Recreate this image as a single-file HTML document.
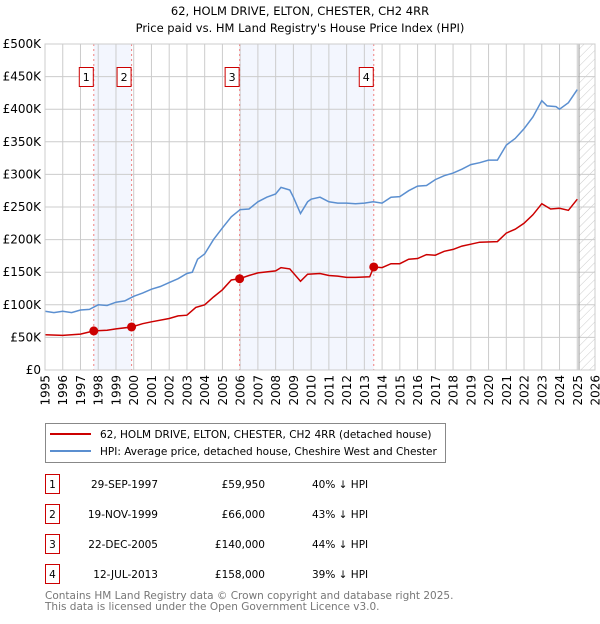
<!DOCTYPE html>
<html><head><meta charset="utf-8"><style>
body{margin:0;background:#fff;font-family:"DejaVu Sans","Liberation Sans",sans-serif;}
svg text{font-family:"DejaVu Sans","Liberation Sans",sans-serif;}
</style></head><body>
<svg id="c" width="600" height="620" xmlns="http://www.w3.org/2000/svg">
<defs><pattern id="hatch" width="6" height="6" patternUnits="userSpaceOnUse" patternTransform="rotate(45)"><line x1="0" y1="0" x2="0" y2="6" stroke="#ccc" stroke-width="1"/></pattern></defs>
<text x="300" y="15" text-anchor="middle" font-size="11.5" fill="#000">62, HOLM DRIVE, ELTON, CHESTER, CH2 4RR</text>
<text x="300" y="32" text-anchor="middle" font-size="11.5" fill="#000">Price paid vs. HM Land Registry's House Price Index (HPI)</text>
<g id="plot"></g>
<g>
<rect x="45.5" y="423.5" width="400" height="39" fill="#fff" stroke="#888"/>
<line x1="50" y1="434" x2="91" y2="434" stroke="#cc0000" stroke-width="2"/>
<text x="100" y="438" font-size="10.5">62, HOLM DRIVE, ELTON, CHESTER, CH2 4RR (detached house)</text>
<line x1="50" y1="451" x2="91" y2="451" stroke="#5b8fd0" stroke-width="2"/>
<text x="100" y="455" font-size="10.5">HPI: Average price, detached house, Cheshire West and Chester</text>
</g>
<g id="table" font-size="11"></g>
<text x="45" y="599" font-size="10.5" fill="#777">Contains HM Land Registry data © Crown copyright and database right 2025.</text>
<text x="45" y="610" font-size="10.5" fill="#777">This data is licensed under the Open Government Licence v3.0.</text>
</svg>
<script>
const hpiYears=[1995,1995.5,1996,1996.5,1997,1997.5,1998,1998.5,1999,1999.5,2000,2000.5,2001,2001.5,2002,2002.5,2003,2003.3,2003.6,2004,2004.5,2005,2005.5,2006,2006.5,2007,2007.5,2008,2008.3,2008.8,2009,2009.4,2009.8,2010,2010.5,2011,2011.5,2012,2012.5,2013,2013.5,2014,2014.5,2015,2015.5,2016,2016.5,2017,2017.5,2018,2018.5,2019,2019.5,2020,2020.5,2021,2021.5,2022,2022.5,2023,2023.3,2023.8,2024,2024.5,2025];
const hpiValues=[90,88,90,88,92,93,100,99,104,106,113,118,124,128,134,140,148,150,170,178,200,218,235,246,247,258,265,270,280,276,265,240,258,262,265,258,256,256,255,256,258,256,265,266,275,282,283,292,298,302,308,315,318,322,322,345,355,370,388,413,405,404,400,410,430];
const priceYears=[1995,1996,1997,1997.75,1998.5,1999,1999.88,2000.5,2001,2002,2002.5,2003,2003.5,2004,2004.5,2005,2005.5,2005.97,2006.5,2007,2008,2008.3,2008.8,2009.4,2009.8,2010.5,2011,2011.5,2012,2012.5,2013.3,2013.53,2014,2014.5,2015,2015.5,2016,2016.5,2017,2017.5,2018,2018.5,2019,2019.5,2020.5,2021,2021.5,2022,2022.5,2023,2023.5,2024,2024.5,2025];
const priceValues=[54,53,55,59.95,61,63,66,71,74,79,83,84,96,100,112,123,138,140,145,149,152,157,155,136,147,148,145,144,142,142,143,158,157,163,163,170,171,177,176,182,185,190,193,196,197,210,216,225,238,255,247,248,245,262];
const saleLabels=["1","2","3","4"];
const saleYears=[1997.75,1999.88,2005.97,2013.53];
const saleValues=[59.95,66,140,158];
const saleDates=["29-SEP-1997","19-NOV-1999","22-DEC-2005","12-JUL-2013"];
const salePrices=["£59,950","£66,000","£140,000","£158,000"];
const saleDiffs=["40% ↓ HPI","43% ↓ HPI","44% ↓ HPI","39% ↓ HPI"];
const yTicks=[0,50,100,150,200,250,300,350,400,450,500];
const yTickLabels=["£0","£50K","£100K","£150K","£200K","£250K","£300K","£350K","£400K","£450K","£500K"];
const xTicks=[1995,1996,1997,1998,1999,2000,2001,2002,2003,2004,2005,2006,2007,2008,2009,2010,2011,2012,2013,2014,2015,2016,2017,2018,2019,2020,2021,2022,2023,2024,2025,2026];
const dataEnd=2025.1;

const X0=45,X1=595,Y0=370,Y1=44;
const xs=y=>X0+(y-1995)/(2026-1995)*(X1-X0);
const ys=v=>Y0-v/500*(Y0-Y1);
const NS="http://www.w3.org/2000/svg";
const plot=document.getElementById('plot');
function mk(tag,attrs,parent){const e=document.createElementNS(NS,tag);for(const k in attrs)e.setAttribute(k,attrs[k]);(parent||plot).appendChild(e);return e;}

for(let i=0;i<saleYears.length;i+=2){
  const b=mk('rect',{x:xs(saleYears[i]),y:Y1,width:xs(saleYears[i+1])-xs(saleYears[i]),height:Y0-Y1,fill:'#f3f6fe'});
  
  
}
const h=mk('rect',{x:xs(dataEnd),y:Y1,width:X1-xs(dataEnd),height:Y0-Y1,fill:'url(#hatch)'});


yTicks.forEach((t,i)=>{
  const l=mk('line',{x1:X0,x2:X1,y1:ys(t),y2:ys(t),stroke:'#ccc','stroke-width':1});
  
  
  const tx=mk('text',{x:X0-4,y:ys(t)+4,'text-anchor':'end','font-size':12,fill:'#000'});
  tx.textContent=yTickLabels[i];
  
  
});
xTicks.forEach(t=>{
  const l=mk('line',{x1:xs(t),x2:xs(t),y1:Y1,y2:Y0,stroke:'#ccc','stroke-width':1});
  
  
  const tx=mk('text',{x:0,y:0,'text-anchor':'end','font-size':12,fill:'#000',transform:'translate('+(xs(t)+4.5)+','+(Y0+5)+') rotate(-90)'});
  tx.textContent=t;
  
  
});
const el=mk('line',{x1:xs(dataEnd),x2:xs(dataEnd),y1:Y1,y2:Y0,stroke:'#999','stroke-width':1});


saleYears.forEach((y,i)=>{
  const l=mk('line',{x1:xs(y),x2:xs(y),y1:Y1,y2:Y0,stroke:'#f08080','stroke-width':1,'stroke-dasharray':'2,3'});
  
  
  const g=mk('g',{});
  
  
  mk('rect',{x:xs(y)-14.5,y:67.5,width:14,height:19,fill:'#fff',stroke:'#cc0000'},g);
  const t=mk('text',{x:xs(y)-7.5,y:81,'text-anchor':'middle','font-size':11},g);
  t.textContent=saleLabels[i];
});
function path(xa,va){return xa.map((y,i)=>(i?'L':'M')+xs(y).toFixed(1)+','+ys(va[i]).toFixed(1)).join('');}
const hp=mk('path',{d:path(hpiYears,hpiValues),fill:'none',stroke:'#5b8fd0','stroke-width':1.5});


const pp=mk('path',{d:path(priceYears,priceValues),fill:'none',stroke:'#cc0000','stroke-width':1.5});


saleYears.forEach((y,i)=>{
  const c=mk('circle',{cx:xs(y),cy:ys(saleValues[i]),r:4.5,fill:'#cc0000'});
  
  
});
const fr=mk('rect',{x:X0,y:Y1,width:X1-X0,height:Y0-Y1,fill:'none',stroke:'#ccc'});


const tb=document.getElementById('table');
saleLabels.forEach((s,i)=>{
  const yy=484+i*30;
  const g=mk('g',{},tb);
  
  
  mk('rect',{x:45.5,y:yy-9.5,width:14,height:19,fill:'#fff',stroke:'#cc0000'},g);
  const t0=mk('text',{x:52.5,y:yy+4,'text-anchor':'middle','font-size':10.5},g);t0.textContent=s;
  const t1=mk('text',{x:158,y:yy+4,'text-anchor':'end','font-size':10.5},g);t1.textContent=saleDates[i];
  const t2=mk('text',{x:265,y:yy+4,'text-anchor':'end','font-size':10.5},g);t2.textContent=salePrices[i];
  const t3=mk('text',{x:312,y:yy+4,'font-size':10.5},g);t3.textContent=saleDiffs[i];
});
</script>
</body></html>
